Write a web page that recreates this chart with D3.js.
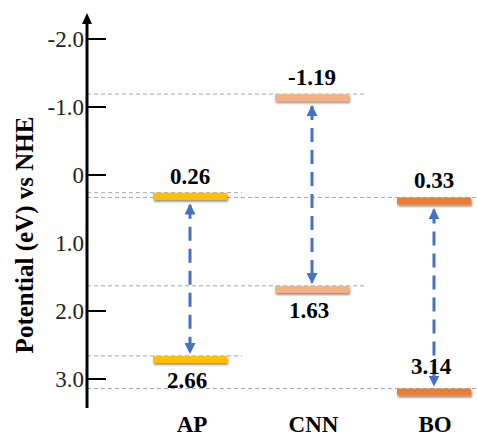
<!DOCTYPE html>
<html lang="en">
	<head>
		<meta charset="utf-8">
		<title>Band positions vs NHE</title>
		<script src="https://d3js.org/d3.v7.min.js"></script>
		<style type="text/css">
			body { margin: 0; background: #fff; }
			text { font-family: "Liberation Serif", "Times New Roman", serif; }
		</style>
	</head>
	<body>
		<script type="text/javascript">
		// data
		var materials = ["AP", "CNN", "BO"];
		var cbValues = [0.26, -1.19, 0.33];
		var cbLabels = ["0.26", "-1.19", "0.33"];
		var vbValues = [2.66, 1.63, 3.14];
		var vbLabels = ["2.66", "1.63", "3.14"];
		var barColors = ["#FFC000", "#F4B183", "#ED7D31"];
		var tickValues = [-2, -1, 0, 1, 2, 3];
		var tickLabels = ["-2.0", "-1.0", "0", "1.0", "2.0", "3.0"];
		var tickMarks = [-2, -1, 0, 2, 3];

		var width = 477, height = 437;
		var axisX = 87, axisBottom = 408, axisTop = 13;
		var barW = 74, barH = 7;

		var svg = d3.select("body")
			.append("svg")
			.attr("width", width)
			.attr("height", height);

		var defs = svg.append("defs");
		defs.append("filter")
			.attr("id", "shadow")
			.attr("x", "-10%").attr("y", "-50%")
			.attr("width", "130%").attr("height", "250%")
			.append("feDropShadow")
			.attr("dx", 1).attr("dy", 2)
			.attr("stdDeviation", 1.3)
			.attr("flood-color", "#000")
			.attr("flood-opacity", 0.45);

		defs.append("marker")
			.attr("id", "head")
			.attr("viewBox", "0 0 10 10")
			.attr("refX", 9).attr("refY", 5)
			.attr("markerWidth", 11).attr("markerHeight", 11)
			.attr("markerUnits", "userSpaceOnUse")
			.attr("orient", "auto-start-reverse")
			.append("path")
			.attr("d", "M0,0L10,5L0,10Z")
			.attr("fill", "#4472C4");

		var y = d3.scaleLinear()
			.domain([0, 3])
			.range([175, 379]);

		var x = d3.scalePoint()
			.domain(materials)
			.range([190, 434]);

		var xLabel = d3.scalePoint()
			.domain(materials)
			.range([192, 435]);

		// dashed reference lines
		var levels = [];
		materials.forEach(function(m, i){
			levels.push({m: m, v: cbValues[i], i: i});
			levels.push({m: m, v: vbValues[i], i: i});
		});

		svg.selectAll("line.ref")
			.data(levels)
			.enter()
			.append("line")
			.attr("class", "ref")
			.attr("x1", axisX)
			.attr("x2", function(d){
				return Math.min(width, x(d.m) + barW/2 + 15);
			})
			.attr("y1", function(d){ return y(d.v); })
			.attr("y2", function(d){ return y(d.v); })
			.attr("stroke", "#a6a6a6")
			.attr("stroke-width", 1)
			.attr("stroke-dasharray", "4,3");

		// y axis
		svg.append("line")
			.attr("x1", axisX).attr("x2", axisX)
			.attr("y1", axisBottom).attr("y2", axisTop + 8)
			.attr("stroke", "#000")
			.attr("stroke-width", 3);

		svg.append("path")
			.attr("d", "M" + (axisX - 5) + "," + (axisTop + 11) + "L" + axisX + "," + axisTop + "L" + (axisX + 5) + "," + (axisTop + 11) + "Z")
			.attr("fill", "#000");

		svg.selectAll("line.tick")
			.data(tickMarks)
			.enter()
			.append("line")
			.attr("class", "tick")
			.attr("x1", axisX).attr("x2", axisX + 19)
			.attr("y1", function(d){ return y(d); })
			.attr("y2", function(d){ return y(d); })
			.attr("stroke", "#000")
			.attr("stroke-width", 2);

		svg.selectAll("text.tickLabel")
			.data(tickValues)
			.enter()
			.append("text")
			.attr("class", "tickLabel")
			.attr("x", axisX - 3)
			.attr("y", function(d){ return y(d); })
			.attr("dy", "0.35em")
			.attr("text-anchor", "end")
			.attr("font-size", 23)
			.attr("fill", "#222")
			.text(function(d, i){ return tickLabels[i]; });

		svg.append("text")
			.attr("transform", "translate(33,235) rotate(-90)")
			.attr("text-anchor", "middle")
			.attr("font-size", 25)
			.attr("font-weight", "bold")
			.text("Potential (eV) vs NHE");

		// bars
		svg.selectAll("rect.level")
			.data(levels)
			.enter()
			.append("rect")
			.attr("class", "level")
			.attr("x", function(d){ return x(d.m) - barW/2; })
			.attr("y", function(d){ return y(d.v); })
			.attr("width", barW)
			.attr("height", barH)
			.attr("fill", function(d){ return barColors[d.i]; })
			.attr("filter", "url(#shadow)");

		// arrows
		svg.selectAll("line.arrow")
			.data(materials)
			.enter()
			.append("line")
			.attr("class", "arrow")
			.attr("x1", function(d){ return x(d); })
			.attr("x2", function(d){ return x(d); })
			.attr("y1", function(d, i){ return y(cbValues[i]) + barH + 5; })
			.attr("y2", function(d, i){ return y(vbValues[i]) - 3; })
			.attr("stroke", "#4472C4")
			.attr("stroke-width", 3)
			.attr("stroke-dasharray", "14,8")
			.attr("marker-start", "url(#head)")
			.attr("marker-end", "url(#head)");

		// value labels
		svg.selectAll("text.cb")
			.data(materials)
			.enter()
			.append("text")
			.attr("class", "cb")
			.attr("x", function(d){ return x(d); })
			.attr("y", function(d, i){ return y(cbValues[i]) - 9; })
			.attr("text-anchor", "middle")
			.attr("font-size", 23)
			.attr("font-weight", "bold")
			.text(function(d, i){ return cbLabels[i]; });

		svg.selectAll("text.vb")
			.data(materials)
			.enter()
			.append("text")
			.attr("class", "vb")
			.attr("x", function(d){ return x(d) - 3; })
			.attr("y", function(d, i){
				var below = y(vbValues[i]) + 32;
				return below > axisBottom ? y(vbValues[i]) - 15 : below;
			})
			.attr("text-anchor", "middle")
			.attr("font-size", 23)
			.attr("font-weight", "bold")
			.text(function(d, i){ return vbLabels[i]; });

		// category labels
		svg.selectAll("text.cat")
			.data(materials)
			.enter()
			.append("text")
			.attr("class", "cat")
			.attr("x", function(d){ return xLabel(d); })
			.attr("y", 432)
			.attr("text-anchor", "middle")
			.attr("font-size", 23)
			.attr("font-weight", "bold")
			.text(function(d){ return d; });
		</script>
	</body>
</html>
